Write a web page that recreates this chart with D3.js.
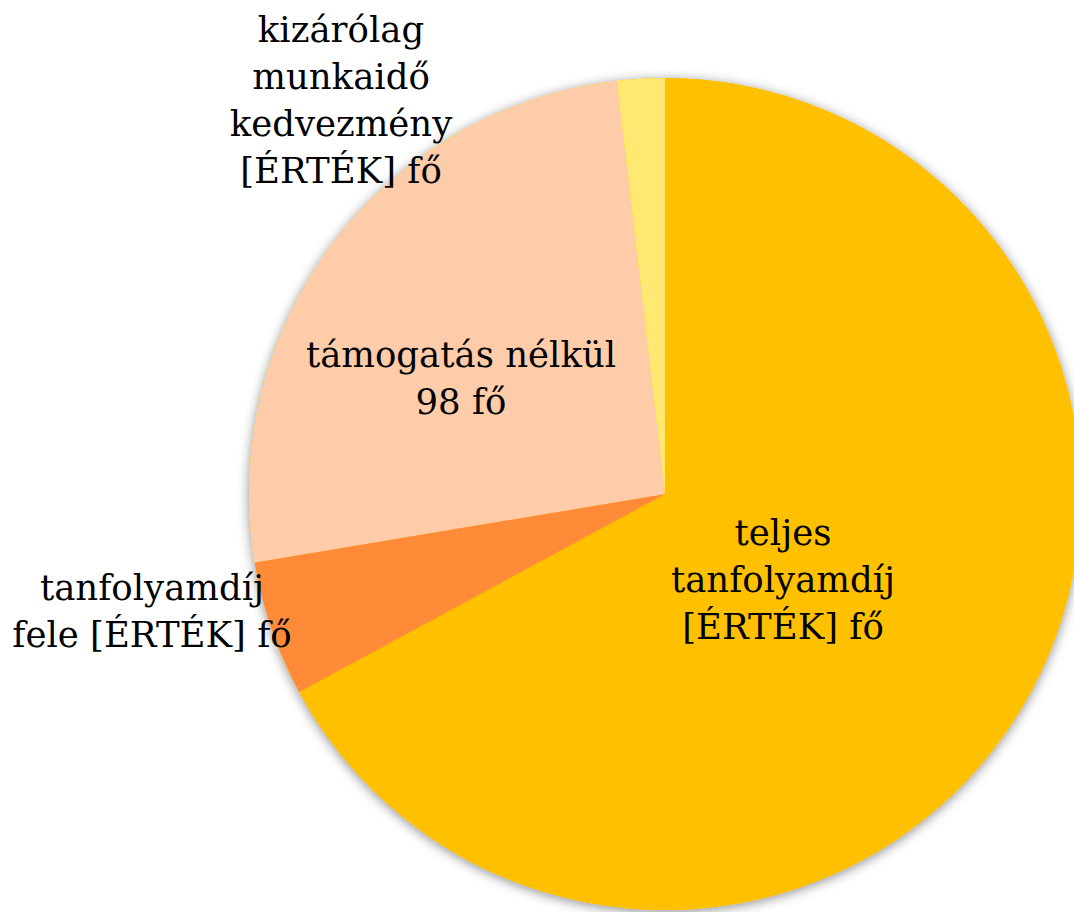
<!DOCTYPE html>
<html>
<head>
<meta charset="utf-8">
<script src="https://cdn.jsdelivr.net/npm/d3@7"></script>
<style>
html,body{margin:0;padding:0;background:#fff;}
svg{display:block;}
</style>
</head>
<body>
<svg id="chart" width="1074" height="912"></svg>
<script>
const categories = ["teljes tanfolyamdíj", "tanfolyamdíj fele", "támogatás nélkül", "kizárólag munkaidő kedvezmény"];
const values = [255, 20, 98, 7];
const colors = ["#FFC000", "#FF8A37", "#FFCCAA", "#FFE972"];
const labels = [
  ["teljes", "tanfolyamdíj", "[ÉRTÉK] fő"],
  ["tanfolyamdíj", "fele [ÉRTÉK] fő"],
  ["támogatás nélkül", "98 fő"],
  ["kizárólag", "munkaidő", "kedvezmény", "[ÉRTÉK] fő"]
];
// label anchor (center x, first baseline y)
const labelPos = [[783, 545], [152, 600], [461, 367], [341, 42]];

const svg = d3.select("#chart");
const cx = 665, cy = 494, r = 416;

const defs = svg.append("defs");
const f = defs.append("filter").attr("id","shadow").attr("x","-20%").attr("y","-20%").attr("width","140%").attr("height","140%");
f.append("feDropShadow").attr("dx",0).attr("dy",2).attr("stdDeviation",6).attr("flood-color","#000").attr("flood-opacity",0.45);

const pie = d3.pie().sort(null).value(d => d);
const arcs = pie(values);
const arc = d3.arc().innerRadius(0).outerRadius(r);

const g = svg.append("g").attr("transform", `translate(${cx},${cy})`);
g.append("circle").attr("r", r).attr("fill", "#FFC000").attr("filter","url(#shadow)");
g.selectAll("path.slice").data(arcs).enter().append("path")
  .attr("class","slice")
  .attr("d", arc)
  .attr("fill", (d,i) => colors[i]);

const lineH = 47;
labels.forEach((lines, i) => {
  const t = svg.append("text")
    .attr("text-anchor","middle")
    .attr("font-family","'DejaVu Serif', serif")
    .attr("font-size", 35.5)
    .attr("fill","#000");
  lines.forEach((ln, j) => {
    t.append("tspan").attr("x", labelPos[i][0]).attr("y", labelPos[i][1] + j*lineH).text(ln);
  });
});
</script>
</body>
</html>
